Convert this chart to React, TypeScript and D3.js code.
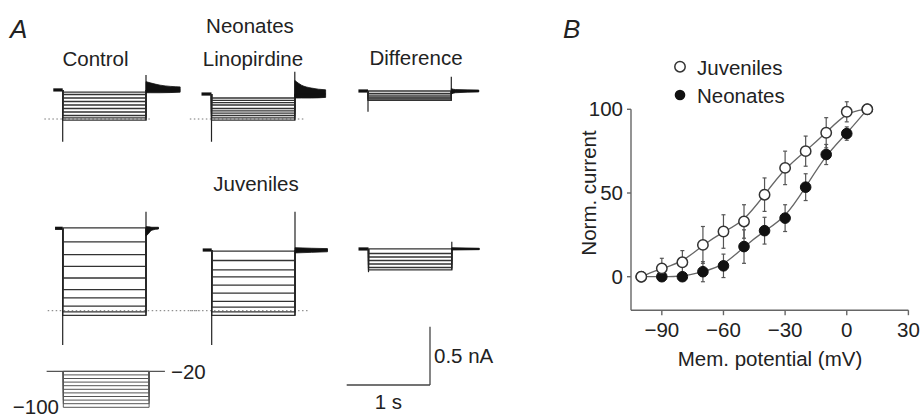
import React from "react";
import * as d3 from "d3";

const W = 921;
const H = 417;

// ---------- Panel B data ----------
const MEM_POTENTIAL = [-100, -90, -80, -70, -60, -50, -40, -30, -20, -10, 0, 10];
const JUVENILES = [0, 5, 8.6, 19, 27, 33, 49, 65, 75, 86, 98.5, 100];
const JUVENILES_ERR = [0, 6, 7, 11, 10, 10, 10, 10, 9, 9, 6, 0];
const NEONATES = [0, 0, 0, 3, 6.5, 18, 27.5, 35, 53.5, 73, 85.5, 100];
const NEONATES_ERR = [0, 0, 0, 6, 7, 10, 8, 8, 8, 6, 4, 0];
const X_TICKS = [-90, -60, -30, 0, 30];
const Y_TICKS = [0, 50, 100];

// ---------- Panel A data (currents in nA, times in s) ----------
const PROTOCOL_MV = [-100, -92, -84, -76, -68, -60, -52, -44, -36, -28, -20];
const PROTOCOL_HOLD_MV = -20;
const PROTOCOL_TIMES = [-0.2, 0, 1.03, 1.22];

const NEO_CONTROL = [0.23, 0.21, 0.18, 0.15, 0.12, 0.09, 0.06, 0.03, 0.01, -0.01];
const NEO_CONTROL_TAIL = [[1.0, 0.32, 0.225], [1.05, 0.31, 0.225], [1.17, 0.29, 0.225], [1.41, 0.275, 0.23]];
const NEO_LINO = [0.18, 0.16, 0.14, 0.12, 0.09, 0.07, 0.05, 0.03, 0.01, -0.01];
const NEO_LINO_TAIL = [[1.0, 0.33, 0.18], [1.08, 0.29, 0.18], [1.2, 0.265, 0.18], [1.37, 0.25, 0.185]];
const NEO_DIFF = [0.24, 0.22, 0.205, 0.19, 0.18, 0.17, 0.16];
const NEO_DIFF_TAIL = [[1.0, 0.26, 0.215], [1.05, 0.252, 0.225], [1.33, 0.248, 0.232]];

const JUV_CONTROL = [0.71, 0.59, 0.48, 0.38, 0.28, 0.18, 0.11, 0.04, -0.01, -0.04];
const JUV_CONTROL_TAIL = [[1.0, 0.72, 0.64], [1.03, 0.72, 0.66], [1.07, 0.715, 0.69], [1.15, 0.715, 0.7]];
const JUV_LINO = [0.51, 0.43, 0.35, 0.29, 0.22, 0.15, 0.08, 0.03, -0.01, -0.04];
const JUV_LINO_TAIL = [[1.0, 0.54, 0.495], [1.2, 0.535, 0.5], [1.39, 0.532, 0.505]];
const JUV_DIFF = [0.53, 0.49, 0.46, 0.43, 0.4, 0.37, 0.35];
const JUV_DIFF_TAIL = [[1.0, 0.54, 0.52], [1.33, 0.535, 0.523]];

const SCALE_BAR_S = 1;
const SCALE_BAR_NA = 0.5;

// ---------- layout ----------
const PX_PER_S = 83.3;
const PX_PER_NA = 116.7;
const FONT = "'Liberation Sans', Arial, Helvetica, sans-serif";
const TXT = "#222";
const FS = 20.5;

type TraceProps = {
  x0: number;
  zeroY: number;
  holding: number;
  levels: number[];
  onset: number;
  spike: number;
  pre: number;
  tail: number[][];
  dotted?: [number, number];
};

function TracePanel({ x0, zeroY, holding, levels, onset, spike, pre, tail, dotted }: TraceProps) {
  const xs = d3.scaleLinear().domain([0, 1]).range([x0, x0 + PX_PER_S]);
  const ys = d3.scaleLinear().domain([0, 1]).range([zeroY, zeroY - PX_PER_NA]);
  const minLevel = d3.min(levels) as number;
  const tailEnd = tail[tail.length - 1][0];
  const area = d3
    .area<number[]>()
    .x((d) => xs(d[0]))
    .y0((d) => ys(d[2]))
    .y1((d) => ys(d[1]))
    .curve(d3.curveMonotoneX);
  return (
    <g>
      {dotted && (
        <line
          x1={xs(dotted[0])}
          x2={xs(dotted[1])}
          y1={ys(0)}
          y2={ys(0)}
          stroke="#777"
          strokeWidth={1}
          strokeDasharray="1.5,2.5"
        />
      )}
      <line x1={xs(pre)} x2={xs(0)} y1={ys(holding)} y2={ys(holding)} stroke="#111" strokeWidth={3.2} />
      {levels.map((L, i) => (
        <path
          key={i}
          d={`M${xs(0)},${ys(holding)}V${ys(L)}H${xs(1)}V${ys(holding)}`}
          fill="none"
          stroke="#333"
          strokeWidth={1.3}
        />
      ))}
      <line x1={xs(0)} x2={xs(0)} y1={ys(holding)} y2={ys(Math.min(onset, minLevel))} stroke="#222" strokeWidth={1.2} />
      <line x1={xs(1)} x2={xs(1)} y1={ys(minLevel)} y2={ys(spike)} stroke="#222" strokeWidth={1.2} />
      <path d={area(tail) || ""} fill="#111" stroke="#111" strokeWidth={0.8} />
      <line x1={xs(1)} x2={xs(tailEnd)} y1={ys(holding)} y2={ys(holding)} stroke="#111" strokeWidth={1.5} />
    </g>
  );
}

export default function App() {
  // Panel B scales
  const x = d3.scaleLinear().domain([-105, 30]).range([631, 908.4]);
  const y = d3.scaleLinear().domain([-20, 100]).range([310.2, 109.3]);
  const line = d3
    .line<number>()
    .x((_, i) => x(MEM_POTENTIAL[i]))
    .y((d) => y(d))
    .curve(d3.curveBasis);

  // protocol scales
  const pt = d3.scaleLinear().domain([0, 1]).range([63.3, 63.3 + PX_PER_S]);
  const pv = d3.scaleLinear().domain([-100, -20]).range([407.3, 371.3]);

  // scale bar
  const sbX = d3.scaleLinear().domain([0, 1]).range([430 - PX_PER_S, 430]);
  const sbY = d3.scaleLinear().domain([0, 1]).range([385, 385 - PX_PER_NA]);

  const errBars = (vals: number[], errs: number[], key: string) =>
    vals.map((v, i) =>
      errs[i] > 0 ? (
        <g key={key + i} stroke="#555" strokeWidth={1.2}>
          <line x1={x(MEM_POTENTIAL[i])} x2={x(MEM_POTENTIAL[i])} y1={y(v - errs[i])} y2={y(v + errs[i])} />
          <line x1={x(MEM_POTENTIAL[i]) - 2} x2={x(MEM_POTENTIAL[i]) + 2} y1={y(v + errs[i])} y2={y(v + errs[i])} />
          <line x1={x(MEM_POTENTIAL[i]) - 2} x2={x(MEM_POTENTIAL[i]) + 2} y1={y(v - errs[i])} y2={y(v - errs[i])} />
        </g>
      ) : null
    );

  return (
    <svg
      width={W}
      height={H}
      style={{ position: "absolute", left: 0, top: 0, background: "#fff" }}
      fontFamily={FONT}
    >
      {/* ===== Panel A ===== */}
      <text x={10} y={38} fontSize={26} fontStyle="italic" fill={TXT}>A</text>
      <text x={250} y={33} fontSize={FS} textAnchor="middle" fill={TXT}>Neonates</text>
      <text x={95.5} y={66} fontSize={FS} textAnchor="middle" fill={TXT}>Control</text>
      <text x={253} y={66} fontSize={FS} textAnchor="middle" fill={TXT}>Linopirdine</text>
      <text x={416} y={65} fontSize={FS} textAnchor="middle" fill={TXT}>Difference</text>
      <text x={256} y={191} fontSize={FS} textAnchor="middle" fill={TXT}>Juveniles</text>

      <TracePanel x0={62.7} zeroY={119} holding={0.249} levels={NEO_CONTROL} onset={-0.195} spike={0.377} pre={-0.113} tail={NEO_CONTROL_TAIL} dotted={[-0.22, 1.07]} />
      <TracePanel x0={211.5} zeroY={119} holding={0.214} levels={NEO_LINO} onset={-0.195} spike={0.405} pre={-0.12} tail={NEO_LINO_TAIL} dotted={[-0.26, 1.13]} />
      <TracePanel x0={368} zeroY={119} holding={0.24} levels={NEO_DIFF} onset={0.063} spike={0.362} pre={-0.115} tail={NEO_DIFF_TAIL} />

      <TracePanel x0={62.7} zeroY={310.7} holding={0.706} levels={JUV_CONTROL} onset={-0.294} spike={0.848} pre={-0.092} tail={JUV_CONTROL_TAIL} dotted={[-0.18, 1.65]} />
      <TracePanel x0={211.7} zeroY={310.7} holding={0.52} levels={JUV_LINO} onset={-0.294} spike={0.848} pre={-0.108} tail={JUV_LINO_TAIL} dotted={[-0.26, 1.16]} />
      <TracePanel x0={368.5} zeroY={310.7} holding={0.529} levels={JUV_DIFF} onset={0.33} spike={0.591} pre={-0.12} tail={JUV_DIFF_TAIL} />

      {/* voltage protocol */}
      <g stroke="#555" strokeWidth={1} fill="none">
        <line x1={pt(PROTOCOL_TIMES[0])} x2={pt(PROTOCOL_TIMES[3])} y1={pv(PROTOCOL_HOLD_MV)} y2={pv(PROTOCOL_HOLD_MV)} strokeWidth={1.3} />
        {PROTOCOL_MV.map((v, i) => (
          <path
            key={i}
            d={`M${pt(PROTOCOL_TIMES[1])},${pv(PROTOCOL_HOLD_MV)}V${pv(v)}H${pt(PROTOCOL_TIMES[2])}V${pv(PROTOCOL_HOLD_MV)}`}
          />
        ))}
      </g>
      <text x={171} y={379} fontSize={FS} fill={TXT}>−20</text>
      <text x={59} y={414} fontSize={FS} textAnchor="end" fill={TXT}>−100</text>

      {/* scale bar */}
      <g stroke="#444" strokeWidth={1.3}>
        <line x1={sbX(0)} x2={sbX(SCALE_BAR_S)} y1={sbY(0)} y2={sbY(0)} />
        <line x1={sbX(SCALE_BAR_S)} x2={sbX(SCALE_BAR_S)} y1={sbY(0)} y2={sbY(SCALE_BAR_NA)} />
      </g>
      <text x={434} y={363} fontSize={FS} fill={TXT}>0.5 nA</text>
      <text x={(sbX(0) + sbX(SCALE_BAR_S)) / 2} y={409} fontSize={FS} textAnchor="middle" fill={TXT}>1 s</text>

      {/* ===== Panel B ===== */}
      <text x={563} y={38} fontSize={26} fontStyle="italic" fill={TXT}>B</text>

      {/* axes */}
      <g stroke="#666" strokeWidth={1.4}>
        <line x1={x(-105)} x2={x(-105)} y1={y(100)} y2={y(-20)} />
        <line x1={x(-105)} x2={x(30)} y1={y(-20)} y2={y(-20)} />
        {Y_TICKS.map((t) => (
          <line key={"yt" + t} x1={x(-105) - 4} x2={x(-105)} y1={y(t)} y2={y(t)} />
        ))}
        {X_TICKS.map((t) => (
          <line key={"xt" + t} x1={x(t)} x2={x(t)} y1={y(-20)} y2={y(-20) + 5} />
        ))}
      </g>
      {Y_TICKS.map((t) => (
        <text key={"yl" + t} x={x(-105) - 8} y={y(t) + 7} fontSize={FS} textAnchor="end" fill={TXT}>
          {t}
        </text>
      ))}
      {X_TICKS.map((t) => (
        <text key={"xl" + t} x={x(t)} y={337} fontSize={FS} textAnchor="middle" fill={TXT}>
          {t < 0 ? "−" + Math.abs(t) : String(t)}
        </text>
      ))}
      <text x={770} y={366} fontSize={FS} textAnchor="middle" fill={TXT}>Mem. potential (mV)</text>
      <text transform={`translate(596,193) rotate(-90)`} fontSize={FS} textAnchor="middle" fill={TXT}>
        Norm. current
      </text>

      {/* curves */}
      <path d={line(NEONATES) || ""} fill="none" stroke="#666" strokeWidth={1.3} />
      <path d={line(JUVENILES) || ""} fill="none" stroke="#666" strokeWidth={1.3} />

      {errBars(NEONATES, NEONATES_ERR, "ne")}
      {errBars(JUVENILES, JUVENILES_ERR, "je")}

      {NEONATES.map((v, i) => (
        <circle key={"n" + i} cx={x(MEM_POTENTIAL[i])} cy={y(v)} r={5.3} fill="#111" stroke="#111" strokeWidth={1} />
      ))}
      {JUVENILES.map((v, i) => (
        <circle key={"j" + i} cx={x(MEM_POTENTIAL[i])} cy={y(v)} r={5.2} fill="#fff" stroke="#333" strokeWidth={1.5} />
      ))}

      {/* legend */}
      <circle cx={680} cy={66.7} r={5.2} fill="#fff" stroke="#333" strokeWidth={1.5} />
      <text x={697} y={75} fontSize={FS} fill={TXT}>Juveniles</text>
      <circle cx={680} cy={95} r={5.3} fill="#111" />
      <text x={697} y={103} fontSize={FS} fill={TXT}>Neonates</text>
    </svg>
  );
}
